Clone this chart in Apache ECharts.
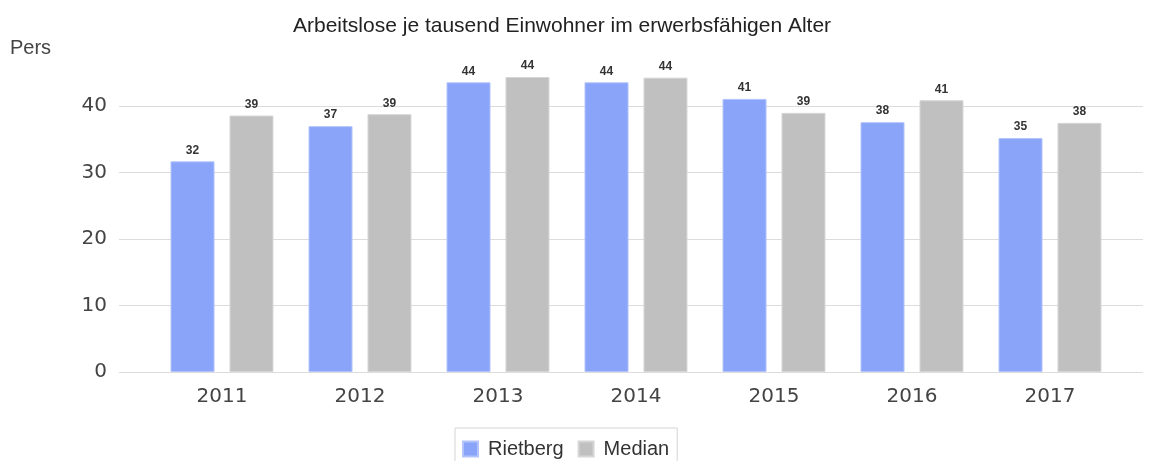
<!DOCTYPE html>
<html lang="de">
<head>
    <meta charset="UTF-8">
    <title>Arbeitslose je tausend Einwohner</title>
    <script src="https://cdn.jsdelivr.net/npm/echarts@6/dist/echarts.min.js"></script>
    <style>
        html, body { margin: 0; padding: 0; background: #fff; }
        #chart { width: 1154px; height: 461px; }
    </style>
</head>
<body>
    <div id="chart"></div>

    <script>
        // Daten
        const years = ['2011', '2012', '2013', '2014', '2015', '2016', '2017'];
        const rietberg = [31.7, 37.0, 43.6, 43.6, 41.1, 37.6, 35.2];
        const median = [38.6, 38.8, 44.4, 44.3, 39.0, 40.9, 37.5];
        const yTicks = [0, 10, 20, 30, 40];

        const chart = echarts.init(document.getElementById('chart'));

        const barLabel = {
            show: true,
            position: 'top',
            distance: 5,
            color: '#333',
            fontSize: 12,
            fontWeight: 'bold',
            fontFamily: 'Liberation Sans, Arial, sans-serif',
            formatter: p => Math.round(p.value)
        };

        const option = {
            animation: false,
            title: [
                {
                    text: 'Arbeitslose je tausend Einwohner im erwerbsfähigen Alter',
                    left: 288,
                    top: 11,
                    textStyle: { fontFamily: 'Liberation Sans, Arial, sans-serif', fontSize: 21, fontWeight: 'normal', color: '#222' }
                },
                {
                    text: 'Pers',
                    left: 5,
                    top: 33,
                    textStyle: { fontFamily: 'Liberation Sans, Arial, sans-serif', fontSize: 20, fontWeight: 'normal', color: '#444' }
                }
            ],
            legend: {
                data: ['Rietberg', 'Median'],
                left: 455,
                top: 428,
                padding: [11, 8, 10, 7],
                borderColor: '#d4d4d4',
                borderWidth: 1,
                icon: 'rect',
                itemWidth: 15,
                itemHeight: 15,
                itemGap: 14,
                textStyle: { fontFamily: 'Liberation Sans, Arial, sans-serif', fontSize: 20, color: '#333', padding: [0, 0, 0, 5] }
            },
            grid: [
                { left: 119, right: 11, top: 73, bottom: 89 },
                { left: 153, right: 35, top: 73, bottom: 89 }
            ],
            xAxis: [
                { type: 'category', gridIndex: 0, data: years, show: false },
                {
                    type: 'category',
                    gridIndex: 1,
                    data: years,
                    axisLine: { show: false },
                    axisTick: { show: false },
                    axisLabel: { margin: 15, fontFamily: 'DejaVu Sans, Verdana, sans-serif', fontSize: 20, color: '#444' }
                }
            ],
            yAxis: [
                {
                    type: 'value',
                    gridIndex: 0,
                    min: 0,
                    max: 45,
                    interval: 10,
                    axisLine: { show: false },
                    axisTick: { show: false },
                    axisLabel: {
                        margin: 12,
                        showMaxLabel: false,
                        fontFamily: 'DejaVu Sans, Verdana, sans-serif',
                        fontSize: 20,
                        color: '#444',
                        formatter: v => (yTicks.includes(v) ? String(v) : '')
                    },
                    splitLine: { showMaxLine: false, lineStyle: { color: '#dcdcdc', width: 1 } }
                },
                { type: 'value', gridIndex: 1, min: 0, max: 45, show: false, splitLine: { show: false } }
            ],
            series: [
                {
                    name: 'Rietberg',
                    type: 'bar',
                    xAxisIndex: 1,
                    yAxisIndex: 1,
                    data: rietberg,
                    barWidth: 44,
                    barGap: '34%',
                    itemStyle: { color: '#89a4f8', borderColor: '#b3c4fb', borderWidth: 1 },
                    label: barLabel
                },
                {
                    name: 'Median',
                    type: 'bar',
                    xAxisIndex: 1,
                    yAxisIndex: 1,
                    data: median,
                    barWidth: 44,
                    itemStyle: { color: '#c0c0c0', borderColor: '#d6d6d6', borderWidth: 1 },
                    label: barLabel
                }
            ]
        };

        chart.setOption(option);
    </script>
</body>
</html>
